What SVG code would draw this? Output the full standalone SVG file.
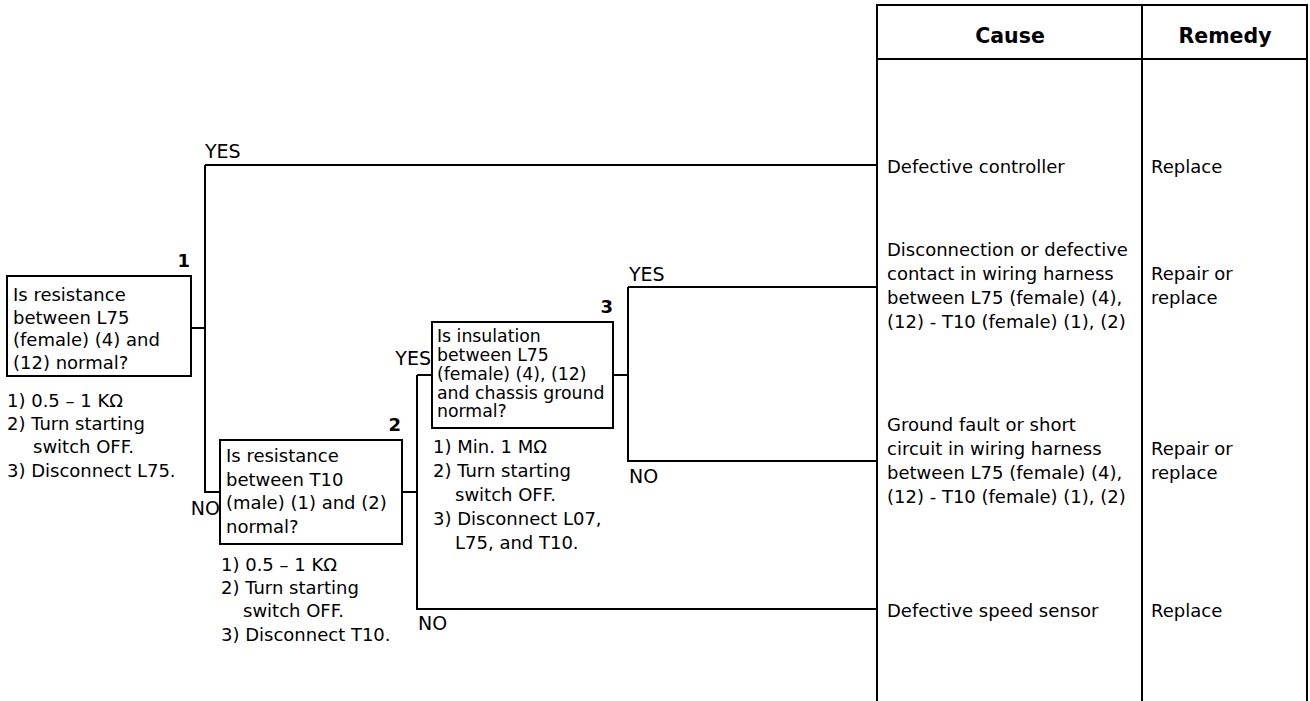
<svg xmlns="http://www.w3.org/2000/svg" width="1310" height="701" viewBox="0 0 1310 701">
<style>
text{font-family:"DejaVu Sans","Liberation Sans",sans-serif;font-size:18px;fill:#000}
.b{font-weight:bold}
.h{font-weight:bold;font-size:20.5px}
.s{font-size:17.3px}
.lbl{font-size:19px}
.box{fill:#fff;stroke:#000;stroke-width:2}
.ln{fill:none;stroke:#000;stroke-width:2}
</style>
<rect width="1310" height="701" fill="#fff"/>
<g id="table">
<path class="ln" d="M877,701V5H1307V701M877,59H1307M1142,5V701"/>
<text class="h" x="1010" y="43" text-anchor="middle">Cause</text>
<text class="h" x="1225" y="43" text-anchor="middle">Remedy</text>
</g>
<g id="connectors">
<path class="ln" d="M191,328H205M205,165V492H220M205,165H877"/>
<path class="ln" d="M402,492H417M417,375V609H877M417,375H432"/>
<path class="ln" d="M613,375H628M628,287V461H877M628,287H877"/>
<text class="lbl" x="205" y="158">YES</text>
<text class="lbl" x="220" y="515" text-anchor="end">NO</text>
<text class="lbl" x="431" y="365" text-anchor="end">YES</text>
<text class="lbl" x="418" y="630">NO</text>
<text class="lbl" x="629" y="281">YES</text>
<text class="lbl" x="629" y="483">NO</text>
</g>
<g id="node1">
<rect class="box" x="7" y="276" width="184" height="100"/>
<text class="b" x="190" y="267" text-anchor="end">1</text>
<text x="13" y="301">Is resistance</text>
<text x="13" y="323.5">between L75</text>
<text x="13" y="346">(female) (4) and</text>
<text x="13" y="368.5">(12) normal?</text>
<text x="7" y="407">1) 0.5 – 1 KΩ</text>
<text x="7" y="430">2) Turn starting</text>
<text x="33" y="453">switch OFF.</text>
<text x="7" y="477">3) Disconnect L75.</text>
</g>
<g id="node2">
<rect class="box" x="220" y="440" width="182" height="104"/>
<text class="b" x="401" y="431" text-anchor="end">2</text>
<text x="226" y="462">Is resistance</text>
<text x="226" y="485.5">between T10</text>
<text x="226" y="509">(male) (1) and (2)</text>
<text x="226" y="532.5">normal?</text>
<text x="221" y="571">1) 0.5 – 1 KΩ</text>
<text x="221" y="594">2) Turn starting</text>
<text x="243" y="617">switch OFF.</text>
<text x="221" y="641">3) Disconnect T10.</text>
</g>
<g id="node3">
<rect class="box" x="432" y="322" width="181" height="106"/>
<text class="b" x="613" y="313" text-anchor="end">3</text>
<text class="s" x="437" y="342">Is insulation</text>
<text class="s" x="437" y="361">between L75</text>
<text class="s" x="437" y="380">(female) (4), (12)</text>
<text class="s" x="437" y="398.5">and chassis ground</text>
<text class="s" x="437" y="417">normal?</text>
<text x="433" y="453">1) Min. 1 MΩ</text>
<text x="433" y="477">2) Turn starting</text>
<text x="455" y="501">switch OFF.</text>
<text x="433" y="525">3) Disconnect L07,</text>
<text x="455" y="549">L75, and T10.</text>
</g>
<g id="cause1">
<text x="887" y="173">Defective controller</text>
<text x="1151" y="173">Replace</text>
</g>
<g id="cause2">
<text x="887" y="256">Disconnection or defective</text>
<text x="887" y="280">contact in wiring harness</text>
<text x="887" y="304">between L75 (female) (4),</text>
<text x="887" y="328">(12) - T10 (female) (1), (2)</text>
<text x="1151" y="280">Repair or</text>
<text x="1151" y="304">replace</text>
</g>
<g id="cause3">
<text x="887" y="431">Ground fault or short</text>
<text x="887" y="455">circuit in wiring harness</text>
<text x="887" y="479">between L75 (female) (4),</text>
<text x="887" y="503">(12) - T10 (female) (1), (2)</text>
<text x="1151" y="455">Repair or</text>
<text x="1151" y="479">replace</text>
</g>
<g id="cause4">
<text x="887" y="617">Defective speed sensor</text>
<text x="1151" y="617">Replace</text>
</g>
</svg>
